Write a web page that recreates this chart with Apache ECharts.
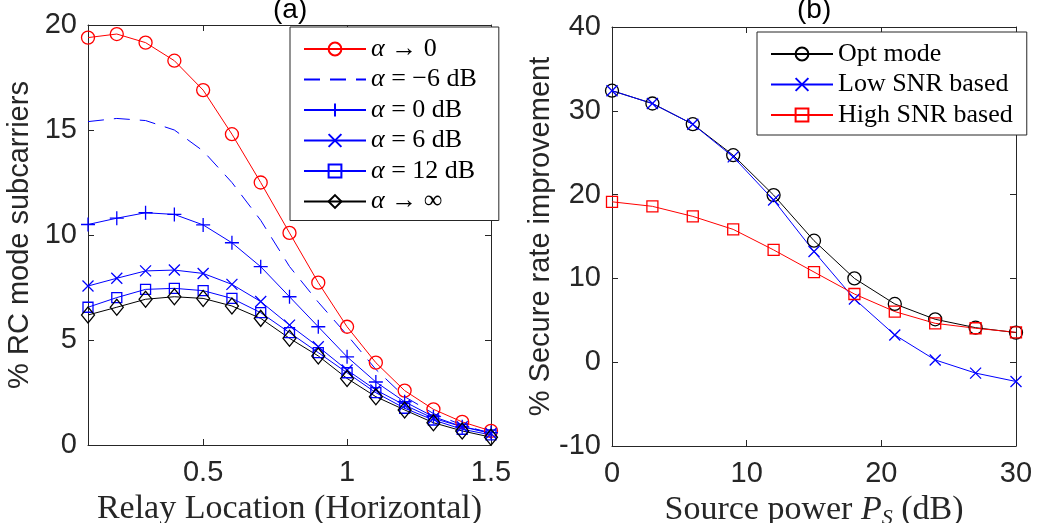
<!DOCTYPE html>
<html>
<head>
<meta charset="utf-8">
<script src="https://cdn.jsdelivr.net/npm/echarts@6/dist/echarts.min.js"></script>
<style>
  html, body { margin: 0; padding: 0; background: #fff; }
  #chart { width: 1048px; height: 523px; }
</style>
</head>
<body>
<div id="chart"></div>
<script>
// (a) relay location sweep
var relayLoc = [0.1, 0.2, 0.3, 0.4, 0.5, 0.6, 0.7, 0.8, 0.9, 1.0, 1.1, 1.2, 1.3, 1.4, 1.5];
var alphaZero = [19.4, 19.57, 19.16, 18.3, 16.9, 14.8, 12.5, 10.1, 7.73, 5.63, 3.92, 2.59, 1.7, 1.1, 0.67];
var alphaM6 = [15.4, 15.55, 15.45, 15.0, 14.0, 12.5, 10.7, 8.5, 6.8, 5.24, 3.6, 2.3, 1.5, 0.95, 0.55];
var alpha0 = [10.5, 10.8, 11.06, 10.98, 10.48, 9.63, 8.49, 7.06, 5.63, 4.2, 3.0, 2.06, 1.35, 0.87, 0.59];
var alpha6 = [7.57, 7.94, 8.29, 8.33, 8.17, 7.65, 6.83, 5.71, 4.68, 3.57, 2.62, 1.9, 1.27, 0.87, 0.55];
var alpha12 = [6.56, 7.02, 7.41, 7.46, 7.35, 6.98, 6.3, 5.35, 4.4, 3.44, 2.49, 1.75, 1.19, 0.75, 0.48];
var alphaInf = [6.19, 6.56, 6.94, 7.06, 6.98, 6.62, 6.03, 5.08, 4.24, 3.17, 2.3, 1.67, 1.06, 0.67, 0.37];
var relayTicks = [0.5, 1, 1.5];

// (b) source power sweep
var power = [0, 3, 6, 9, 12, 15, 18, 21, 24, 27, 30];
var optMode = [32.4, 30.87, 28.4, 24.7, 19.94, 14.5, 10.0, 6.95, 5.12, 4.12, 3.53];
var lowSnr = [32.4, 30.87, 28.4, 24.5, 19.35, 13.2, 7.55, 3.25, 0.27, -1.3, -2.3];
var highSnr = [19.14, 18.6, 17.4, 15.85, 13.4, 10.76, 8.14, 6.04, 4.64, 4.05, 3.57];

var chart = echarts.init(document.getElementById("chart"));

function pairs(xs, ys) {
  return xs.map(function (x, i) { return [x, ys[i]]; });
}

var sans = "Liberation Sans";
var serif = "Liberation Serif";
var axisCol = "#262626";
var plusPath = "path://M5,0V10M0,5H10";
var crossPath = "path://M0,0L10,10M10,0L0,10";
var clear = "rgba(0,0,0,0)";

function mkSeries(name, xs, ys, col, symbol, size, gi, dashed) {
  return {
    name: name,
    type: "line",
    xAxisIndex: gi * 2,
    yAxisIndex: gi * 2,
    data: pairs(xs, ys),
    symbol: symbol,
    symbolSize: size,
    showSymbol: symbol !== "none",
    itemStyle: { color: clear, borderColor: symbol === "none" ? clear : col, borderWidth: 1.3 },
    lineStyle: { color: col, width: 1, type: dashed ? [16, 10] : "solid" },
    emphasis: { disabled: true },
    z: 3
  };
}

function xAx(gi, min, max, top, name, custom, interval) {
  var a = {
    type: "value",
    gridIndex: gi,
    min: min,
    max: max,
    position: top ? "top" : "bottom",
    axisLine: { show: true, onZero: false, lineStyle: { color: axisCol, width: 1 } },
    axisTick: { show: true, inside: true, length: 6, lineStyle: { color: axisCol } },
    axisLabel: { show: !top, color: axisCol, fontFamily: sans, fontSize: 29, margin: 13 },
    splitLine: { show: false }
  };
  if (custom) {
    a.axisTick.customValues = custom;
    a.axisLabel.customValues = custom;
  } else {
    a.interval = interval;
  }
  if (!top) {
    a.name = name;
    a.nameLocation = "middle";
    a.nameGap = 40;
    a.nameTextStyle = {
      color: axisCol, fontFamily: serif, fontSize: 34,
      rich: {
        i: { fontFamily: serif, fontSize: 34, fontStyle: "italic", color: axisCol },
        s: { fontFamily: serif, fontSize: 22, fontStyle: "italic", color: axisCol, padding: [16, 0, 0, 0] }
      }
    };
  }
  return a;
}

function yAx(gi, min, max, interval, right, name, gap) {
  var a = {
    type: "value",
    gridIndex: gi,
    min: min,
    max: max,
    interval: interval,
    position: right ? "right" : "left",
    axisLine: { show: true, onZero: false, lineStyle: { color: axisCol, width: 1 } },
    axisTick: { show: true, inside: true, length: 6, lineStyle: { color: axisCol } },
    axisLabel: { show: !right, color: axisCol, fontFamily: sans, fontSize: 29, margin: 11 },
    splitLine: { show: false }
  };
  if (!right) {
    a.name = name;
    a.nameLocation = "middle";
    a.nameGap = gap;
    a.nameTextStyle = { color: axisCol, fontFamily: sans, fontSize: 29 };
  }
  return a;
}

function legendFmt(name) {
  return name.replace("α", "{i|α}");
}

var option = {
  animation: false,
  backgroundColor: "#fff",
  title: [
    { text: "(a)", left: 273, top: -4, padding: 0, textStyle: { fontFamily: sans, fontSize: 28, fontWeight: "normal", color: "#000" } },
    { text: "(b)", left: 797, top: -4, padding: 0, textStyle: { fontFamily: sans, fontSize: 28, fontWeight: "normal", color: "#000" } }
  ],
  grid: [
    { left: 88, top: 25, width: 403, height: 420, outerBoundsMode: "none", show: true, borderWidth: 0, backgroundColor: "#fff" },
    { left: 612, top: 27, width: 404, height: 419, outerBoundsMode: "none", show: true, borderWidth: 0, backgroundColor: "#fff" }
  ],
  legend: [
    {
      orient: "vertical",
      left: 290, top: 27,
      padding: [9, 22, 6, 13],
      itemGap: 4.5,
      itemWidth: 62, itemHeight: 16,
      backgroundColor: "#fff",
      borderColor: axisCol, borderWidth: 1,
      data: [
        "α → 0",
        { name: "α = −6 dB", itemStyle: { color: clear, borderColor: clear } },
        "α = 0 dB", "α = 6 dB", "α = 12 dB", "α → ∞"
      ],
      formatter: legendFmt,
      textStyle: {
        fontFamily: serif, fontSize: 26, color: "#000", lineHeight: 23,
        rich: { i: { fontFamily: serif, fontSize: 26, fontStyle: "italic", color: "#000", lineHeight: 23 } }
      }
    },
    {
      orient: "vertical",
      left: 757, top: 32,
      padding: [9, 14, 7, 13],
      itemGap: 4.5,
      itemWidth: 62, itemHeight: 16,
      backgroundColor: "#fff",
      borderColor: axisCol, borderWidth: 1,
      data: ["Opt mode", "Low SNR based", "High SNR based"],
      textStyle: { fontFamily: serif, fontSize: 26, color: "#000", lineHeight: 23 }
    }
  ],
  xAxis: [
    xAx(0, 0.1, 1.5, false, "Relay Location (Horizontal)", relayTicks),
    xAx(0, 0.1, 1.5, true, "", relayTicks),
    xAx(1, 0, 30, false, "Source power {i|P}{s|S} (dB)", null, 10),
    xAx(1, 0, 30, true, "", null, 10)
  ],
  yAxis: [
    yAx(0, 0, 20, 5, false, "% RC mode subcarriers", 54),
    yAx(0, 0, 20, 5, true),
    yAx(1, -10, 40, 10, false, "% Secure rate improvement", 54),
    yAx(1, -10, 40, 10, true)
  ],
  series: [
    mkSeries("α → 0", relayLoc, alphaZero, "#ff0000", "circle", 13, 0),
    mkSeries("α = −6 dB", relayLoc, alphaM6, "#0000ff", "none", 1, 0, true),
    mkSeries("α = 0 dB", relayLoc, alpha0, "#0000ff", plusPath, 14, 0),
    mkSeries("α = 6 dB", relayLoc, alpha6, "#0000ff", crossPath, 11, 0),
    mkSeries("α = 12 dB", relayLoc, alpha12, "#0000ff", "rect", 10, 0),
    mkSeries("α → ∞", relayLoc, alphaInf, "#000000", "diamond", [13, 16], 0),
    mkSeries("Opt mode", power, optMode, "#000000", "circle", 13, 1),
    mkSeries("Low SNR based", power, lowSnr, "#0000ff", crossPath, 11, 1),
    mkSeries("High SNR based", power, highSnr, "#ff0000", "rect", 11, 1)
  ]
};

chart.setOption(option);
</script>
</body>
</html>
